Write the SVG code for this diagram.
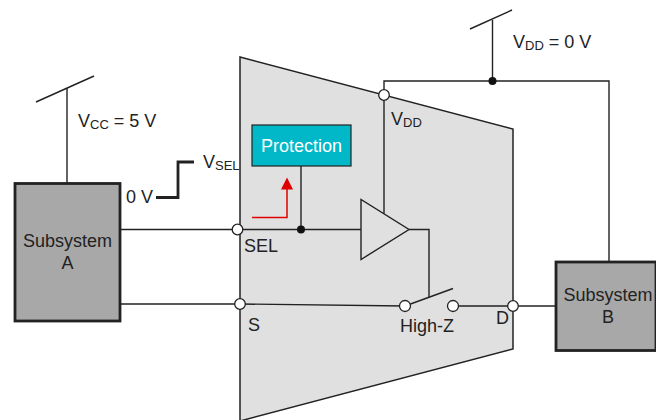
<svg xmlns="http://www.w3.org/2000/svg" width="656" height="420" viewBox="0 0 656 420">
<style>
text{font-family:"Liberation Sans",Arial,sans-serif;font-size:18px;fill:#222}
.sub{font-size:13px}
.w{stroke:#222;stroke-width:1.4;fill:none}
.pin{fill:#fff;stroke:#222;stroke-width:1.3}
.dot{fill:#111}
.sys{fill:#a8a8a8;stroke:#222;stroke-width:2.8}
</style>
<rect width="656" height="420" fill="#fff"/>
<g id="device">
<polygon points="240,57 513,129 513,349 240,421" fill="#e0e0e0" stroke="#222" stroke-width="1.5"/>
</g>
<g id="connectors">
<line class="w" x1="67" y1="88" x2="67" y2="183"/>
<line class="w" x1="36" y1="102" x2="94" y2="76"/>
<line class="w" x1="492.5" y1="20" x2="492.5" y2="81"/>
<line class="w" x1="470" y1="29" x2="512" y2="10"/>
<polyline class="w" points="384,95 384,81 609,81 609,262"/>
<polyline points="156,197.5 178,197.5 178,162 194,162" fill="none" stroke="#222" stroke-width="2.8"/>
<line class="w" x1="120" y1="229.5" x2="361" y2="229.5"/>
<line class="w" x1="301" y1="166" x2="301" y2="229.5"/>
<line class="w" x1="384" y1="95" x2="384" y2="213.5"/>
<polyline class="w" points="409,229.5 429,229.5 429,297"/>
<line class="w" x1="120" y1="304" x2="240" y2="304"/>
<line class="w" x1="240" y1="304" x2="405" y2="306"/>
<line class="w" x1="405" y1="306" x2="453" y2="288.5"/>
<line class="w" x1="453" y1="306" x2="555" y2="306"/>
<polyline points="252,217.5 287,217.5 287,188" fill="none" stroke="#e00000" stroke-width="1.5"/>
<polygon points="281,189.5 293,189.5 287,177.5" fill="#e00000"/>
</g>
<g id="buffer">
<polygon points="361,199.5 361,259.5 409,229.5" fill="#e0e0e0" stroke="#222" stroke-width="1.4"/>
</g>
<g id="pins">
<circle class="pin" cx="237.5" cy="229.5" r="5.3"/>
<circle class="pin" cx="240" cy="304" r="5.3"/>
<circle class="pin" cx="405" cy="306" r="5.5"/>
<circle class="pin" cx="453" cy="306" r="5.5"/>
<circle class="pin" cx="513" cy="306" r="5.3"/>
<circle class="pin" cx="384" cy="95" r="5.3"/>
<circle class="dot" cx="301" cy="229.5" r="4"/>
<circle class="dot" cx="492.5" cy="81" r="4"/>
</g>
<g id="subsystemA">
<rect class="sys" x="15" y="183.5" width="105" height="137.5"/>
<text x="67.5" y="247" text-anchor="middle">Subsystem</text>
<text x="67.5" y="269" text-anchor="middle">A</text>
</g>
<g id="subsystemB">
<rect class="sys" x="556" y="262" width="100" height="88.5"/>
<text x="608" y="301" text-anchor="middle">Subsystem</text>
<text x="608" y="323" text-anchor="middle">B</text>
</g>
<g id="protection">
<rect x="252" y="125" width="99" height="41" fill="#00b8c8" stroke="#222" stroke-width="1.2"/>
<text x="301.5" y="152" text-anchor="middle" style="fill:#fff">Protection</text>
</g>
<g id="labels">
<text x="78" y="127">V<tspan class="sub" dy="2">CC</tspan><tspan dy="-2"> = 5 V</tspan></text>
<text x="513" y="48">V<tspan class="sub" dy="2">DD</tspan><tspan dy="-2"> = 0 V</tspan></text>
<text x="391" y="125">V<tspan class="sub" dy="2">DD</tspan></text>
<text x="203" y="168">V<tspan class="sub" dy="2">SEL</tspan></text>
<text x="126" y="203">0 V</text>
<text x="244" y="252">SEL</text>
<text x="248" y="331">S</text>
<text x="400" y="332">High-Z</text>
<text x="496" y="324">D</text>
</g>
</svg>
